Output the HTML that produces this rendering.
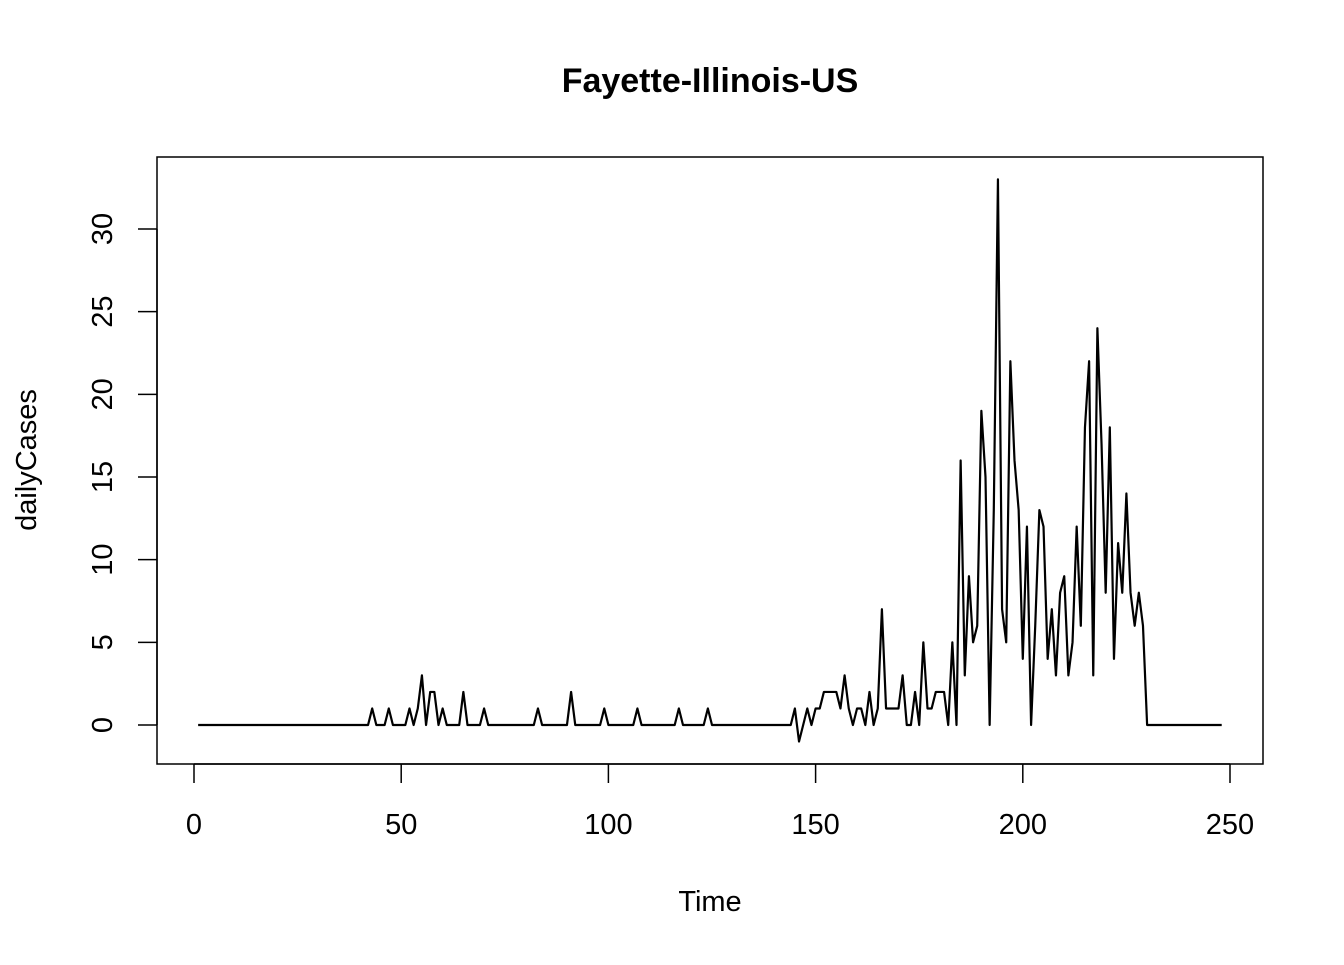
<!DOCTYPE html>
<html><head><meta charset="utf-8"><style>
body{margin:0;background:#fff;}
svg text{font-family:"Liberation Sans",Arial,sans-serif;}
</style></head><body>
<svg width="1344" height="960">
<text x="710" y="92" text-anchor="middle" font-size="34" font-weight="bold">Fayette-Illinois-US</text>
<rect x="157" y="157" width="1106" height="607" fill="none" stroke="#000" stroke-width="1.5"/>
<g id="xaxis"></g>
<g id="yaxis"></g>
<text x="710" y="911" text-anchor="middle" font-size="29">Time</text>
<text transform="translate(36,460) rotate(-90)" text-anchor="middle" font-size="29">dailyCases</text>
<path id="line" fill="none" stroke="#000" stroke-width="2.2" stroke-linejoin="round"/>
</svg>
<script>
const xTicks=[0,50,100,150,200,250];
const yTicks=[0,5,10,15,20,25,30];
const nonZero={43:1,47:1,52:1,54:1,55:3,57:2,58:2,60:1,65:2,70:1,83:1,91:2,99:1,107:1,117:1,124:1,
145:1,146:-1,147:0,148:1,149:0,150:1,151:1,152:2,153:2,154:2,155:2,156:1,157:3,158:1,159:0,160:1,161:1,162:0,163:2,164:0,165:1,166:7,167:1,168:1,169:1,170:1,171:3,172:0,173:0,174:2,175:0,176:5,177:1,178:1,179:2,180:2,181:2,182:0,183:5,184:0,185:16,186:3,187:9,188:5,189:6,190:19,191:15,192:0,193:13,194:33,195:7,196:5,197:22,198:16,199:13,200:4,201:12,202:0,203:6,204:13,205:12,206:4,207:7,208:3,209:8,210:9,211:3,212:5,213:12,214:6,215:18,216:22,217:3,218:24,219:17,220:8,221:18,222:4,223:11,224:8,225:14,226:8,227:6,228:8,229:6,230:0};
const times=[];const values=[];
for(let t=1;t<=248;t++){times.push(t);values.push(nonZero[t]!==undefined?nonZero[t]:0);}
const xs=v=>194+v*(1230-194)/250;
const ys=v=>725-v*(725-229)/30;
const NS="http://www.w3.org/2000/svg";
const xa=document.getElementById('xaxis'),ya=document.getElementById('yaxis');
function mk(tag,attrs,parent){const e=document.createElementNS(NS,tag);for(const k in attrs)e.setAttribute(k,attrs[k]);parent.appendChild(e);return e;}
mk('line',{x1:xs(0),x2:xs(250),y1:764,y2:764,stroke:'#000','stroke-width':1.5},xa);
xTicks.forEach(v=>{
 const l=mk('line',{x1:xs(v),x2:xs(v),y1:764,y2:783,stroke:'#000','stroke-width':1.5},xa);
 
 
 const t=mk('text',{x:xs(v),y:834,'text-anchor':'middle','font-size':29},xa);t.textContent=v;
 
 
});
mk('line',{x1:157,x2:157,y1:ys(0),y2:ys(30),stroke:'#000','stroke-width':1.5},ya);
yTicks.forEach(v=>{
 const l=mk('line',{x1:138,x2:157,y1:ys(v),y2:ys(v),stroke:'#000','stroke-width':1.5},ya);
 
 
 const t=mk('text',{transform:`translate(112,${ys(v)}) rotate(-90)`,'text-anchor':'middle','font-size':29},ya);t.textContent=v;
 
 
});
document.getElementById('line').setAttribute('d',times.map((t,i)=>(i?'L':'M')+xs(t).toFixed(2)+','+ys(values[i]).toFixed(2)).join(''));
</script>
</body></html>
